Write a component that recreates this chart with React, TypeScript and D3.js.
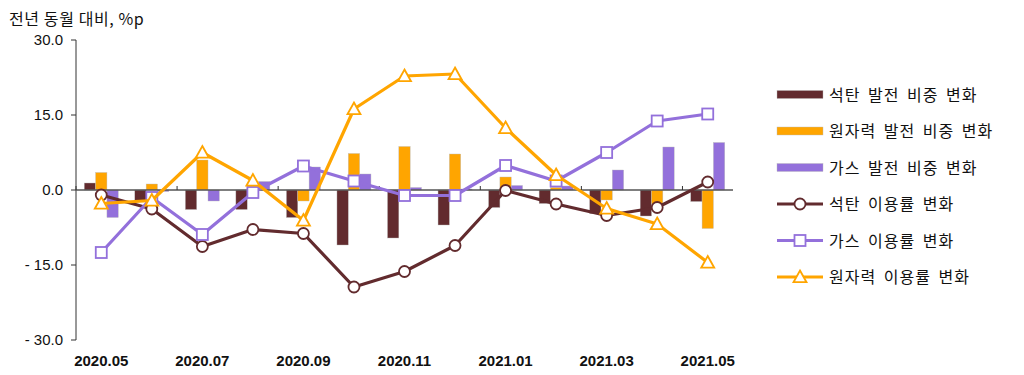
import React from "react";
import * as d3 from "d3";

const months = ["2020.05","2020.06","2020.07","2020.08","2020.09","2020.10","2020.11","2020.12","2021.01","2021.02","2021.03","2021.04","2021.05"];
const tickLabels = ["2020.05","2020.07","2020.09","2020.11","2021.01","2021.03","2021.05"];
const yTicks = [30, 15, 0, -15, -30];

const coalShare = [1.4, -2.2, -3.9, -3.9, -5.5, -11.0, -9.6, -7.0, -3.5, -2.7, -4.7, -5.2, -2.3];
const nuclearShare = [3.5, 1.2, 6.0, 0.2, -2.2, 7.3, 8.7, 7.2, 2.6, 0.5, -2.0, -2.8, -7.7];
const gasShare = [-5.5, -0.3, -2.2, 1.7, 4.6, 3.2, 0.5, 0.2, 0.9, 0.8, 4.0, 8.6, 9.5];

const coalUtil = [-1.0, -3.8, -11.3, -7.9, -8.7, -19.4, -16.3, -11.1, -0.1, -2.8, -5.1, -3.5, 1.6];
const gasUtil = [-12.5, -1.5, -8.9, -0.5, 4.8, 1.8, -1.1, -1.1, 4.9, 1.8, 7.5, 13.8, 15.2];
const nuclearUtil = [-2.7, -2.1, 7.5, 1.9, -6.1, 16.2, 22.8, 23.2, 12.4, 3.0, -3.7, -6.8, -14.5];

const COAL = "#622B2E";
const NUC = "#FFA500";
const GAS = "#9370DB";

const barSeries = [
  { name: "석탄 발전 비중 변화", values: coalShare, color: COAL },
  { name: "원자력 발전 비중 변화", values: nuclearShare, color: NUC },
  { name: "가스 발전 비중 변화", values: gasShare, color: GAS },
];
const lineSeries = [
  { name: "석탄 이용률 변화", values: coalUtil, color: COAL, marker: "circle" },
  { name: "가스 이용률 변화", values: gasUtil, color: GAS, marker: "square" },
  { name: "원자력 이용률 변화", values: nuclearUtil, color: NUC, marker: "triangle" },
];

const KFONT = "'Noto Sans CJK KR', 'Noto Sans', sans-serif";
const NFONT = "'Liberation Sans Narrow', 'Liberation Sans', Arial, sans-serif";

function Marker({ type, x, y, color }: { type: string; x: number; y: number; color: string }) {
  if (type === "circle") return <circle cx={x} cy={y} r={5.5} fill="#fff" stroke={color} strokeWidth={1.8} />;
  if (type === "square") return <rect x={x - 5.5} y={y - 5.5} width={11} height={11} fill="#fff" stroke={color} strokeWidth={1.8} />;
  const s = 6.5;
  return <path d={`M${x},${y - s} L${x + s},${y + s * 0.8} L${x - s},${y + s * 0.8} Z`} fill="#fff" stroke={color} strokeWidth={1.8} />;
}

export default function App() {
  const W = 1024, H = 375;
  const x = d3.scaleBand<string>().domain(months).range([76, 733]).padding(0);
  const y = d3.scaleLinear().domain([-30, 30]).range([340, 40]);
  const inner = d3.scaleBand<number>().domain([0, 1, 2]).range([-17, 17]).padding(0);
  const cx = (m: string) => (x(m) as number) + x.bandwidth() / 2;

  const lineGen = d3.line<number>().x((_, i) => cx(months[i])).y((d) => y(d));

  const legendItems = [
    ...barSeries.map((s) => ({ ...s, kind: "bar", marker: "" })),
    ...lineSeries.map((s) => ({ ...s, kind: "line" })),
  ];

  const minorTicks = d3.range(0, months.length + 1, 2).map((i) => 76 + i * x.bandwidth());

  return (
    <svg width={W} height={H} style={{ position: "absolute", left: 0, top: 0, background: "#fff" }}>
      <text x={9} y={25} fontFamily={KFONT} fontSize={16} letterSpacing={0.6} fill="#111">전년 동월 대비, %p</text>

      {/* y axis */}
      <line x1={76} x2={76} y1={y(30)} y2={y(-30)} stroke="#333" strokeWidth={1} />
      {yTicks.map((t) => (
        <g key={t}>
          <line x1={71} x2={76} y1={y(t)} y2={y(t)} stroke="#333" />
          <text x={63} y={y(t) + 5} textAnchor="end" fontFamily={NFONT} fontSize={15} fill="#111">
            {t < 0 ? `- ${Math.abs(t).toFixed(1)}` : t.toFixed(1)}
          </text>
        </g>
      ))}

      {/* bars */}
      {barSeries.map((s, si) =>
        s.values.map((v, i) => {
          const bx = cx(months[i]) + (inner(si) as number);
          return (
            <rect key={`${si}-${i}`} x={bx} width={inner.bandwidth()} y={Math.min(y(v), y(0))}
              height={Math.abs(y(v) - y(0))} fill={s.color} stroke="#bbb" strokeWidth={0.4} />
          );
        })
      )}

      {/* zero line */}
      <line x1={76} x2={733} y1={y(0)} y2={y(0)} stroke="#555" strokeWidth={1.5} />
      {minorTicks.map((t, i) => (
        <line key={i} x1={t} x2={t} y1={y(0)} y2={y(0) - 4} stroke="#333" />
      ))}

      {/* x labels */}
      {tickLabels.map((m) => (
        <text key={m} x={cx(m)} y={366} textAnchor="middle" fontFamily={NFONT} fontSize={15} fontWeight="bold" fill="#111">{m}</text>
      ))}

      {/* lines */}
      {lineSeries.map((s) => (
        <g key={s.name}>
          <path d={lineGen(s.values) as string} fill="none" stroke={s.color} strokeWidth={3.2} strokeLinejoin="round" />
          {s.values.map((v, i) => (
            <Marker key={i} type={s.marker} x={cx(months[i])} y={y(v)} color={s.color} />
          ))}
        </g>
      ))}

      {/* legend */}
      {legendItems.map((it, i) => {
        const ly = 94.5 + i * 36.5;
        return (
          <g key={it.name}>
            {it.kind === "bar" ? (
              <rect x={777} y={ly - 4} width={46} height={8} fill={it.color} stroke="#bbb" strokeWidth={0.4} />
            ) : (
              <g>
                <line x1={777} x2={823} y1={ly} y2={ly} stroke={it.color} strokeWidth={3.2} />
                <Marker type={it.marker} x={800} y={ly} color={it.color} />
              </g>
            )}
            <text x={829} y={ly + 6} fontFamily={KFONT} fontSize={16} letterSpacing={1} wordSpacing={3} fill="#111">{it.name}</text>
          </g>
        );
      })}
    </svg>
  );
}
